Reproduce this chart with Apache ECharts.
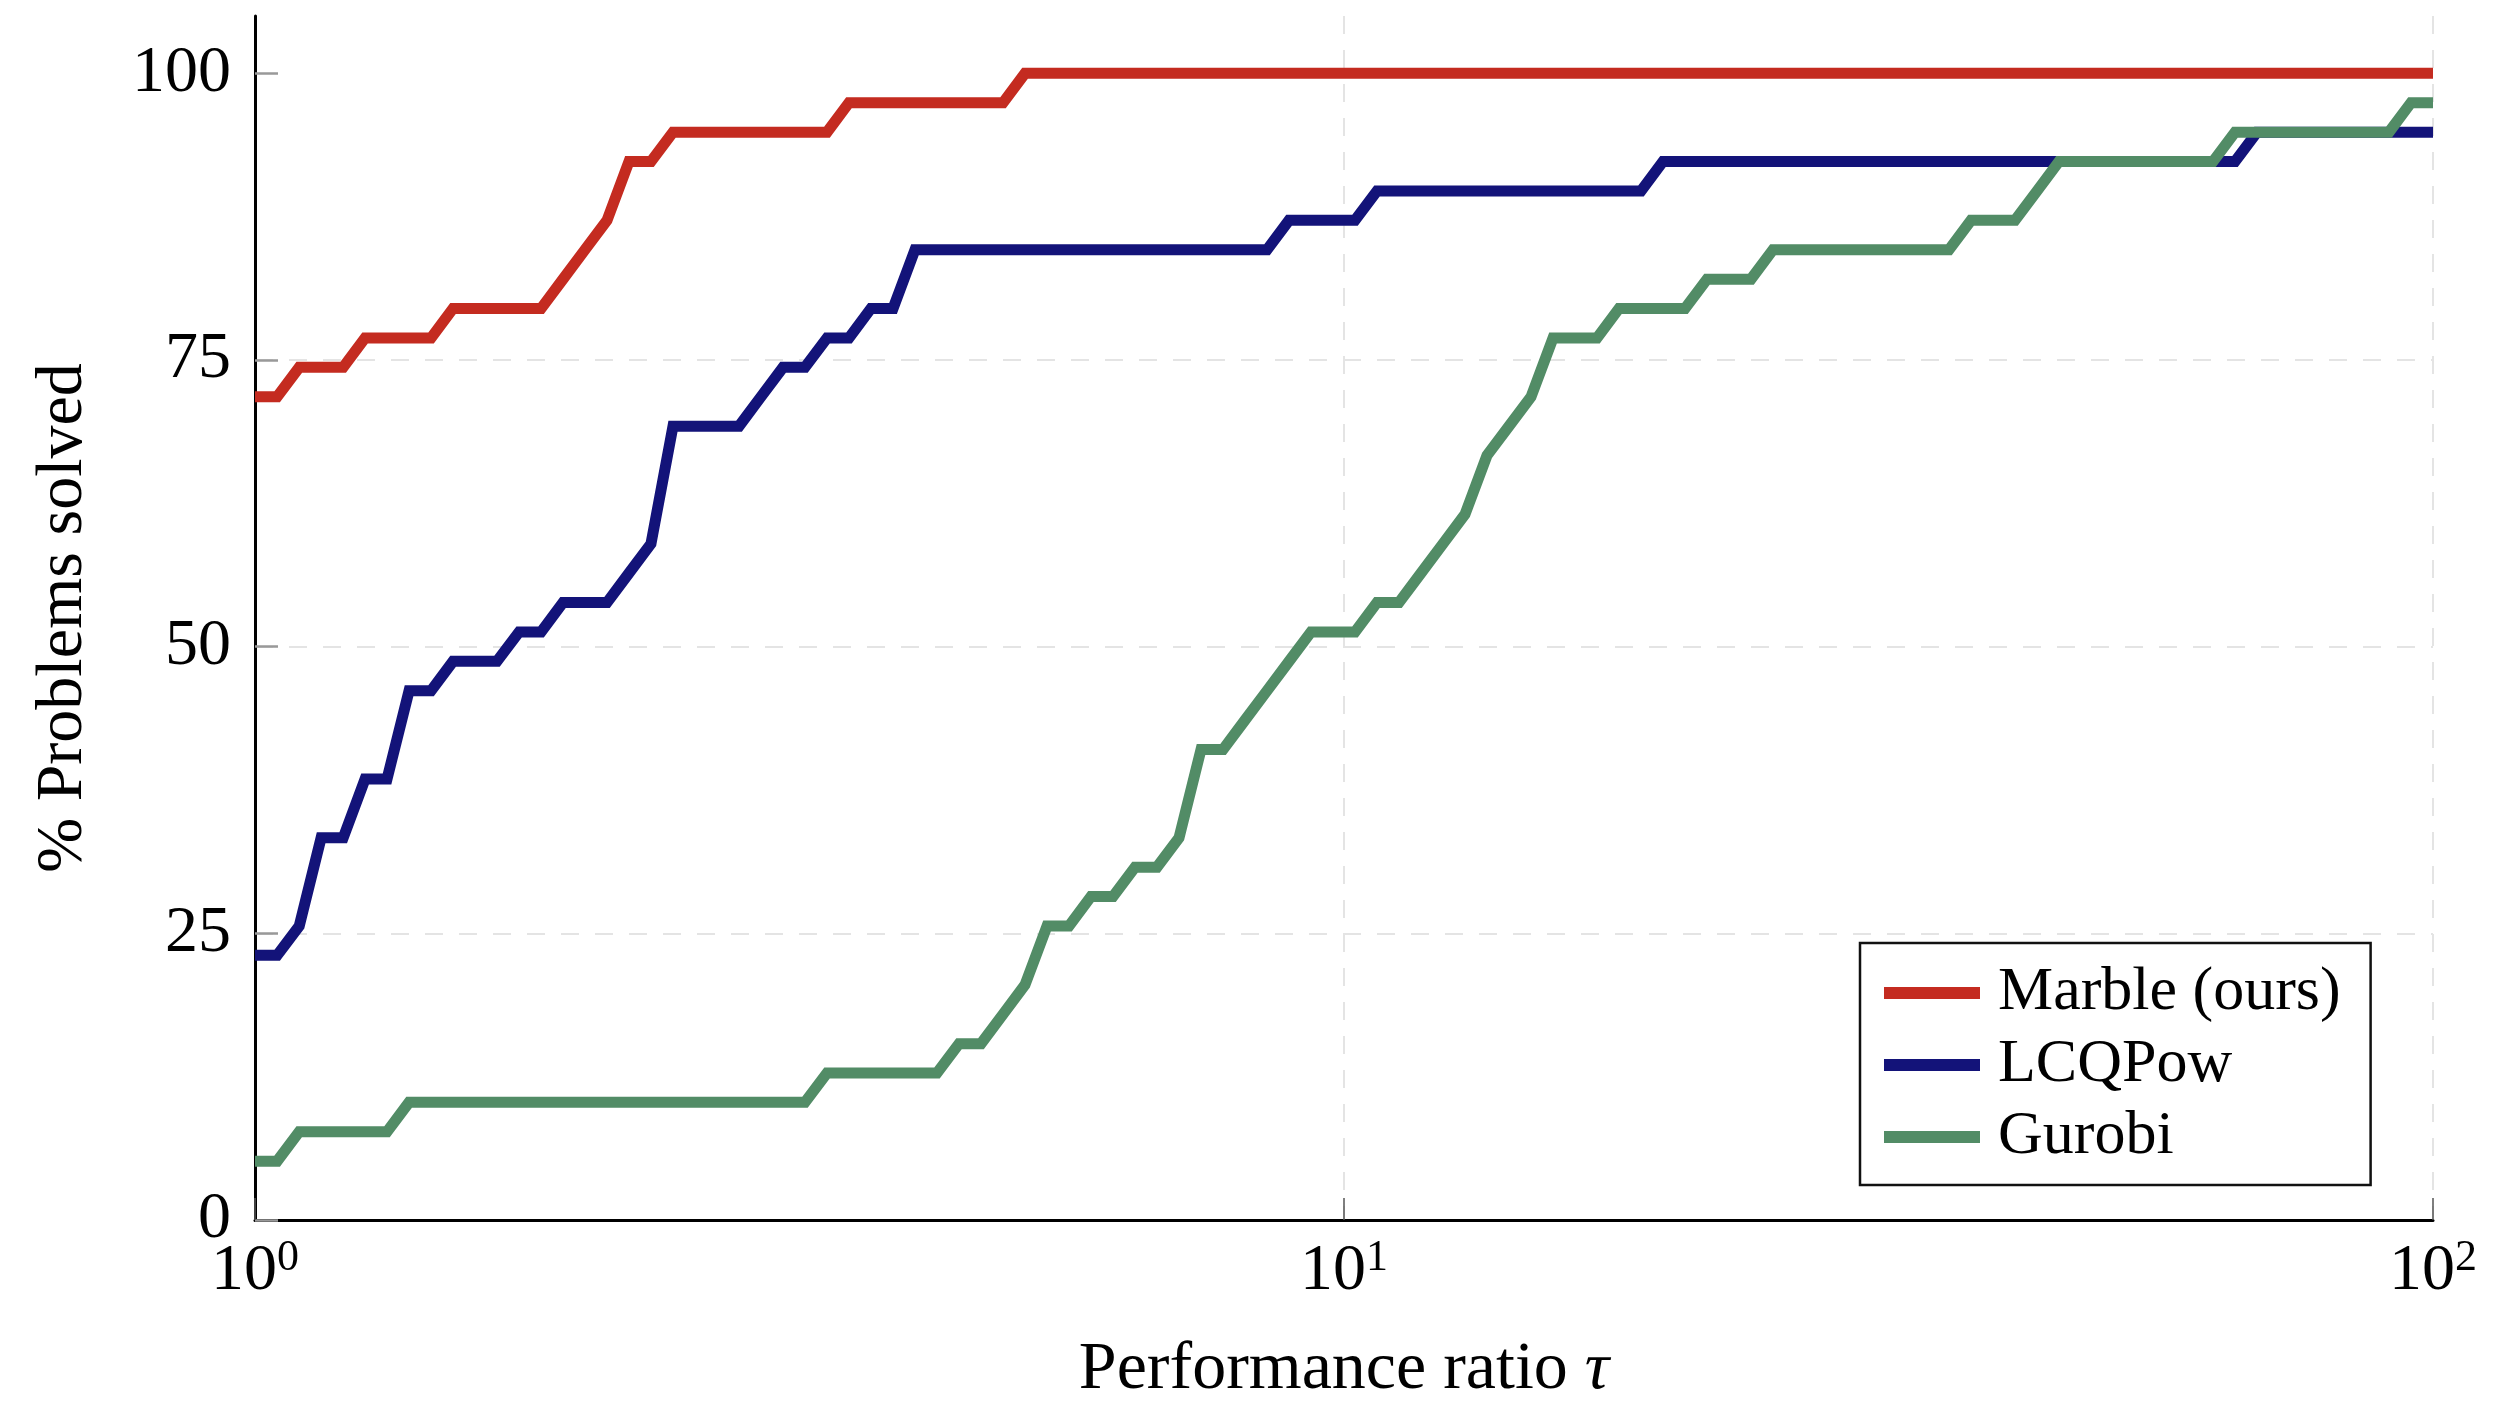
<!DOCTYPE html>
<html>
<head>
<meta charset="utf-8">
<title>Performance profile</title>
<script src="https://cdn.jsdelivr.net/npm/echarts@6/dist/echarts.min.js"></script>
<style>
  html, body { margin: 0; padding: 0; background: #fff; }
  #chart { width: 2494px; height: 1413px; }
</style>
</head>
<body>
<div id="chart"></div>
<script>
// performance ratio tau (corner points of each profile) and % of problems solved
const marbleTau = [1, 1.048, 1.098, 1.205, 1.262, 1.451, 1.520, 1.831, 1.918, 2.009, 2.105, 2.205, 2.310, 2.420, 3.352, 3.511, 4.863, 5.094, 100]
const marbleVal = [71.79, 71.79, 74.36, 74.36, 76.92, 76.92, 79.49, 79.49, 82.05, 84.62, 87.18, 92.31, 92.31, 94.87, 94.87, 97.44, 97.44, 100, 100]

const lcqpowTau = [1, 1.048, 1.098, 1.150, 1.205, 1.262, 1.322, 1.385, 1.451, 1.520, 1.668, 1.748, 1.831, 1.918, 2.105, 2.205, 2.310, 2.420,
  2.783, 2.915, 3.054, 3.199, 3.352, 3.511, 3.678, 3.854, 4.037, 8.498, 8.902, 10.235, 10.723, 18.738, 19.630, 65.793, 68.926, 100]
const lcqpowVal = [23.08, 23.08, 25.64, 33.33, 33.33, 38.46, 38.46, 46.15, 46.15, 48.72, 48.72, 51.28, 51.28, 53.85, 53.85, 56.41, 58.97, 69.23,
  69.23, 71.79, 74.36, 74.36, 76.92, 76.92, 79.49, 79.49, 84.62, 84.62, 87.18, 87.18, 89.74, 89.74, 92.31, 92.31, 94.87, 94.87]

const gurobiTau = [1, 1.048, 1.098, 1.322, 1.385, 3.199, 3.352, 4.229, 4.431, 4.642, 4.863, 5.094, 5.337, 5.591, 5.857, 6.136, 6.428, 6.734,
  7.055, 7.391, 7.743, 8.111, 8.498, 8.902, 9.326, 10.235, 10.723, 11.233, 11.768, 12.328, 12.915, 13.530, 14.175, 14.850, 15.557,
  17.074, 17.887, 20.565, 21.544, 23.645, 24.771, 35.938, 37.649, 41.320, 43.288, 45.349, 62.803, 65.793, 91.116, 95.455, 100]
const gurobiVal = [5.13, 5.13, 7.69, 7.69, 10.26, 10.26, 12.82, 12.82, 15.38, 15.38, 17.95, 20.51, 25.64, 25.64, 28.21, 28.21, 30.77, 30.77,
  33.33, 41.03, 41.03, 43.59, 46.15, 48.72, 51.28, 51.28, 53.85, 53.85, 56.41, 58.97, 61.54, 66.67, 69.23, 71.79, 76.92,
  76.92, 79.49, 79.49, 82.05, 82.05, 84.62, 84.62, 87.18, 87.18, 89.74, 92.31, 92.31, 94.87, 94.87, 97.44, 97.44]

const seriesNames = ['Marble (ours)', 'LCQPow', 'Gurobi']
const seriesColors = ['#c42b20', '#131379', '#528c66']

const xTickValues = [1, 10, 100]
const xTickExps = ['0', '1', '2']
const yTicks = [0, 25, 50, 75, 100]

const serif = "'Liberation Serif', 'DejaVu Serif', serif"

function zip(xs, ys) {
  return xs.map((x, i) => [x, ys[i]])
}

const chart = echarts.init(document.getElementById('chart'))

const gridDash = {
  color: '#e4e4e4',
  width: 2,
  type: [18, 16]
}

chart.setOption({
  animation: false,
  color: seriesColors,
  grid: {
    left: 255,
    right: 61,
    top: 16,
    bottom: 193,
    containLabel: false
  },
  legend: {
    orient: 'vertical',
    left: 1860,
    top: 943,
    icon: 'rect',
    itemWidth: 96,
    itemHeight: 12,
    itemGap: 10,
    padding: [19, 30, 17, 24],
    borderColor: '#111',
    borderWidth: 2.5,
    backgroundColor: '#fff',
    data: seriesNames,
    textStyle: {
      fontFamily: serif,
      fontSize: 62,
      lineHeight: 62,
      color: '#000',
      padding: [0, 0, 0, 13]
    }
  },
  xAxis: {
    type: 'log',
    logBase: 10,
    min: 1,
    max: 100,
    name: 'Performance ratio {i|τ}',
    nameLocation: 'middle',
    nameGap: 116,
    nameTextStyle: {
      fontFamily: serif,
      fontSize: 68,
      color: '#000',
      rich: {
        i: { fontFamily: serif, fontSize: 68, fontStyle: 'italic', color: '#000' }
      }
    },
    axisLine: { lineStyle: { color: '#000', width: 3 } },
    axisTick: { show: true, inside: true, length: 22, lineStyle: { color: '#555', width: 1.5 } },
    minorTick: { show: false },
    splitLine: { show: true, lineStyle: gridDash },
    axisLabel: {
      margin: 16,
      showMinLabel: true,
      showMaxLabel: true,
      formatter: function (v) {
        const i = xTickValues.indexOf(Math.round(v))
        return '{b|10}{s|' + xTickExps[i] + '}'
      },
      rich: {
        b: { fontFamily: serif, fontSize: 66, lineHeight: 72, color: '#000' },
        s: { fontFamily: serif, fontSize: 44, color: '#000', verticalAlign: 'top' }
      }
    }
  },
  yAxis: {
    type: 'value',
    min: 0,
    max: 105,
    interval: 25,
    name: '% Problems solved',
    nameLocation: 'middle',
    nameGap: 158,
    nameTextStyle: {
      fontFamily: serif,
      fontSize: 66,
      color: '#000'
    },
    axisLine: { show: true, lineStyle: { color: '#000', width: 3 } },
    axisTick: {
      show: true,
      inside: true,
      length: 23,
      customValues: yTicks,
      lineStyle: { color: '#999', width: 2.5 }
    },
    splitLine: { show: true, showMaxLine: false, lineStyle: gridDash },
    axisLabel: {
      margin: 24,
      customValues: yTicks,
      fontFamily: serif,
      fontSize: 66,
      color: '#000'
    }
  },
  series: [
    {
      name: seriesNames[0],
      type: 'line',
      data: zip(marbleTau, marbleVal),
      showSymbol: false,
      symbol: 'none',
      lineStyle: { width: 11, join: 'miter', cap: 'butt' }
    },
    {
      name: seriesNames[1],
      type: 'line',
      data: zip(lcqpowTau, lcqpowVal),
      showSymbol: false,
      symbol: 'none',
      lineStyle: { width: 11, join: 'miter', cap: 'butt' }
    },
    {
      name: seriesNames[2],
      type: 'line',
      data: zip(gurobiTau, gurobiVal),
      showSymbol: false,
      symbol: 'none',
      lineStyle: { width: 11, join: 'miter', cap: 'butt' }
    }
  ]
})
</script>
</body>
</html>
